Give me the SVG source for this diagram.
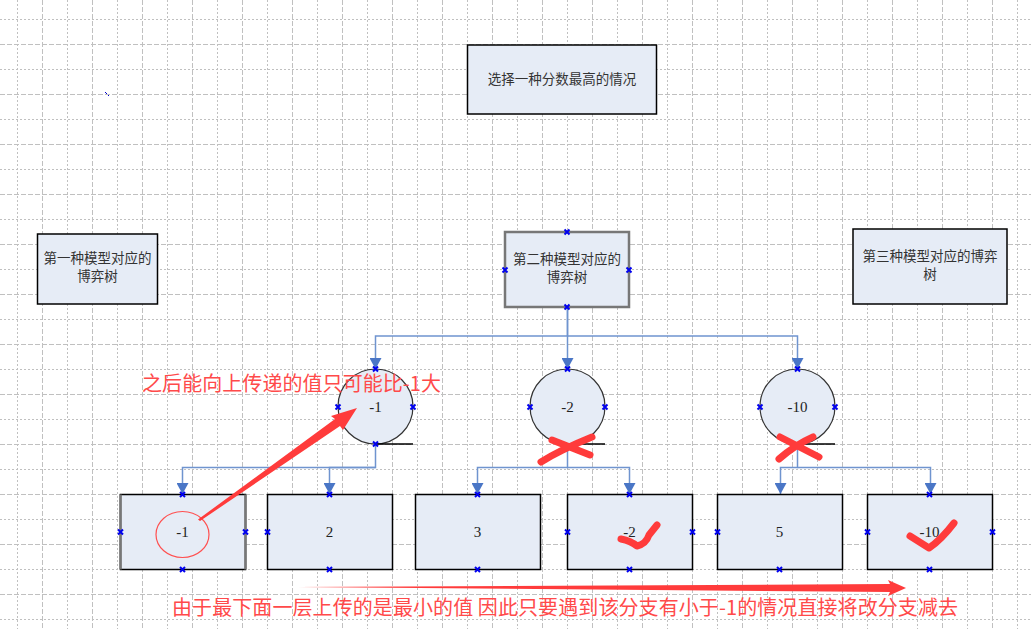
<svg xmlns="http://www.w3.org/2000/svg" width="1031" height="629" viewBox="0 0 1031 629">
<style>
.box{fill:#e6ecf6;stroke:#000;stroke-width:1.5}
.circ{fill:#e6ecf6;stroke:#333;stroke-width:1.2}
.t{font-family:"Noto Sans CJK SC","Liberation Sans",sans-serif;font-size:13.5px;fill:#333;text-anchor:middle}
.n{font-family:"Liberation Serif",serif;font-size:15px;fill:#222;text-anchor:middle}
.conn{fill:none;stroke:#6f94cf;stroke-width:1.5}
.red{font-family:"Noto Sans CJK SC","Liberation Sans",sans-serif;font-size:20px;fill:#ff4a4a}
.mark{fill:none;stroke:#ff3b3b;stroke-width:7;stroke-linecap:round;stroke-linejoin:round}
.cp{stroke:#0000ee;stroke-width:2;fill:none}
.grid-dot{stroke:#c0c0c0;stroke-width:1;stroke-dasharray:2,2}
.grid-dash{stroke:#c0c0c0;stroke-width:1;stroke-dasharray:5,2}
</style>
<defs>
<marker id="arr" markerUnits="userSpaceOnUse" markerWidth="12" markerHeight="12" refX="11" refY="6" orient="auto">
<path d="M0,0 L11,6 L0,12 z" fill="#4a76c6"/>
</marker>
<path id="x" class="cp" d="M-2.5,-2.5 L2.5,2.5 M-2.5,2.5 L2.5,-2.5"/>
</defs>
<rect width="1031" height="629" fill="#fff"/>
<g id="grid">
<path class="grid-dot" d="M17.5,0V629M67.5,0V629M117.5,0V629M167.5,0V629M217.5,0V629M267.5,0V629M317.5,0V629M367.5,0V629M417.5,0V629M467.5,0V629M517.5,0V629M567.5,0V629M617.5,0V629M667.5,0V629M717.5,0V629M767.5,0V629M817.5,0V629M867.5,0V629M917.5,0V629M967.5,0V629M1017.5,0V629"/>
<path class="grid-dash" d="M42.5,0V629M92.5,0V629M142.5,0V629M192.5,0V629M242.5,0V629M292.5,0V629M342.5,0V629M392.5,0V629M442.5,0V629M492.5,0V629M542.5,0V629M592.5,0V629M642.5,0V629M692.5,0V629M742.5,0V629M792.5,0V629M842.5,0V629M892.5,0V629M942.5,0V629M992.5,0V629"/>
<path class="grid-dot" d="M0,19.5H1031M0,69.5H1031M0,119.5H1031M0,169.5H1031M0,219.5H1031M0,269.5H1031M0,319.5H1031M0,369.5H1031M0,419.5H1031M0,469.5H1031M0,519.5H1031M0,569.5H1031M0,619.5H1031"/>
<path class="grid-dash" d="M0,44.5H1031M0,94.5H1031M0,144.5H1031M0,194.5H1031M0,244.5H1031M0,294.5H1031M0,344.5H1031M0,394.5H1031M0,444.5H1031M0,494.5H1031M0,544.5H1031M0,594.5H1031"/>
</g>
<path d="M105,92 L107,94 M108,96 L109,95" stroke="#0000cc" stroke-width="1" fill="none"/>
<g id="connectors">
<path class="conn" d="M567.5,307 V336 H375.5 V369" marker-end="url(#arr)"/>
<path class="conn" d="M567.5,307 V369" marker-end="url(#arr)"/>
<path class="conn" d="M567.5,336 H797.5 V369" marker-end="url(#arr)"/>
<path class="conn" d="M375.5,444 V467.5 H182.5 V494" marker-end="url(#arr)"/>
<path class="conn" d="M375.5,467.5 H329.5 V494" marker-end="url(#arr)"/>
<path class="conn" d="M567.5,444 V467.5 H477.5 V494" marker-end="url(#arr)"/>
<path class="conn" d="M567.5,467.5 H629.5 V494" marker-end="url(#arr)"/>
<path class="conn" d="M797.5,444 V467.5 H780.5 V494" marker-end="url(#arr)"/>
<path class="conn" d="M797.5,467.5 H930.5 V494" marker-end="url(#arr)"/>
</g>
<g id="top">
<rect class="box" x="467.5" y="45" width="189" height="69"/>
<text class="t" x="562" y="84">选择一种分数最高的情况</text>
</g>
<g id="tree1">
<rect class="box" x="37.5" y="234" width="120" height="70"/>
<text class="t" x="97.5" y="263">第一种模型对应的</text>
<text class="t" x="97.5" y="281">博弈树</text>
</g>
<g id="tree2">
<rect class="box" x="505" y="232" width="124" height="75" style="stroke:#777;stroke-width:2.5"/>
<text class="t" x="567" y="264">第二种模型对应的</text>
<text class="t" x="567" y="282">博弈树</text>
<use href="#x" x="567" y="232"/><use href="#x" x="505" y="270"/><use href="#x" x="629" y="270"/><use href="#x" x="567" y="307"/>
</g>
<g id="tree3">
<rect class="box" x="853" y="229" width="154" height="75"/>
<text class="t" x="930" y="261">第三种模型对应的博弈</text>
<text class="t" x="930" y="279">树</text>
</g>
<g id="c1">
<circle class="circ" cx="375.5" cy="406.5" r="37.5"/>
<line x1="375.5" y1="444" x2="413" y2="444" stroke="#000" stroke-width="1.5"/>
<text class="n" x="375.5" y="412">-1</text>
<use href="#x" x="375.5" y="369"/><use href="#x" x="338" y="407"/><use href="#x" x="413" y="407"/><use href="#x" x="375.5" y="444"/>
</g>
<g id="c2">
<circle class="circ" cx="567.5" cy="406.5" r="37.5"/>
<line x1="567.5" y1="444" x2="605" y2="444" stroke="#000" stroke-width="1.5"/>
<text class="n" x="567.5" y="412">-2</text>
<use href="#x" x="567.5" y="369"/><use href="#x" x="530" y="407"/><use href="#x" x="605" y="407"/>
</g>
<g id="c3">
<circle class="circ" cx="797.5" cy="406.5" r="37.5"/>
<line x1="797.5" y1="444" x2="835" y2="444" stroke="#000" stroke-width="1.5"/>
<text class="n" x="797.5" y="412">-10</text>
<use href="#x" x="797.5" y="369"/><use href="#x" x="760" y="407"/><use href="#x" x="835" y="407"/>
</g>
<g id="b1">
<rect class="box" x="120.5" y="494.5" width="125" height="75"/>
<path d="M120.5,494.5V569.5M245.5,494.5V569.5" stroke="#777" stroke-width="2.5"/>
<text class="n" x="182.5" y="537">-1</text>
<use href="#x" x="182.5" y="494.5"/><use href="#x" x="120.5" y="532"/><use href="#x" x="245.5" y="532"/><use href="#x" x="182.5" y="569.5"/>
</g>
<g id="b2">
<rect class="box" x="267.5" y="494.5" width="125" height="75"/>
<text class="n" x="329.5" y="537">2</text>
<use href="#x" x="329.5" y="494.5"/><use href="#x" x="267.5" y="532"/><use href="#x" x="329.5" y="569.5"/>
</g>
<g id="b3">
<rect class="box" x="415.5" y="494.5" width="125" height="75"/>
<text class="n" x="477.5" y="537">3</text>
<use href="#x" x="477.5" y="494.5"/><use href="#x" x="477.5" y="569.5"/>
</g>
<g id="b4">
<rect class="box" x="567.5" y="494.5" width="125" height="75"/>
<text class="n" x="629.5" y="537">-2</text>
<use href="#x" x="629.5" y="494.5"/><use href="#x" x="567.5" y="532"/><use href="#x" x="692.5" y="532"/><use href="#x" x="629.5" y="569.5"/>
</g>
<g id="b5">
<rect class="box" x="717.5" y="494.5" width="125" height="75"/>
<text class="n" x="779.5" y="537">5</text>
<use href="#x" x="717.5" y="532"/><use href="#x" x="779.5" y="569.5"/>
</g>
<g id="b6">
<rect class="box" x="867.5" y="494.5" width="125" height="75"/>
<text class="n" x="929.5" y="537">-10</text>
<use href="#x" x="929.5" y="494.5"/><use href="#x" x="867.5" y="532"/><use href="#x" x="992.5" y="532"/><use href="#x" x="929.5" y="569.5"/>
</g>
<g id="annotations">
<ellipse cx="182.5" cy="534.5" rx="26.5" ry="23" fill="none" stroke="#ff5050" stroke-width="1.2"/>
<path d="M198,519.5 L200,521 L340,426 L343,430 L357,408 L331,416 L335,419 Z" fill="#ff3b3b"/>
<path d="M298,587 L890,584 L888,580 L906,588 L888,596 L890,592 Z" fill="#ff3b3b"/>
<path class="mark" d="M552,440 L590,455 M541,462 Q560,450 592,437"/>
<path class="mark" d="M780,437 L819,457 M779,459 Q795,445 813,437"/>
<path class="mark" d="M621,539 Q631,541 637,546 Q646,544 649,535 L657,525"/>
<path class="mark" d="M910,536 L929,548 Q941,540 954,523"/>
<text class="red" x="142" y="391" textLength="299" lengthAdjust="spacing">之后能向上传递的值只可能比-1大</text>
<text class="red" x="172" y="615" textLength="786" lengthAdjust="spacing">由于最下面一层上传的是最小的值 因此只要遇到该分支有小于-1的情况直接将改分支减去</text>
</g>
</svg>
